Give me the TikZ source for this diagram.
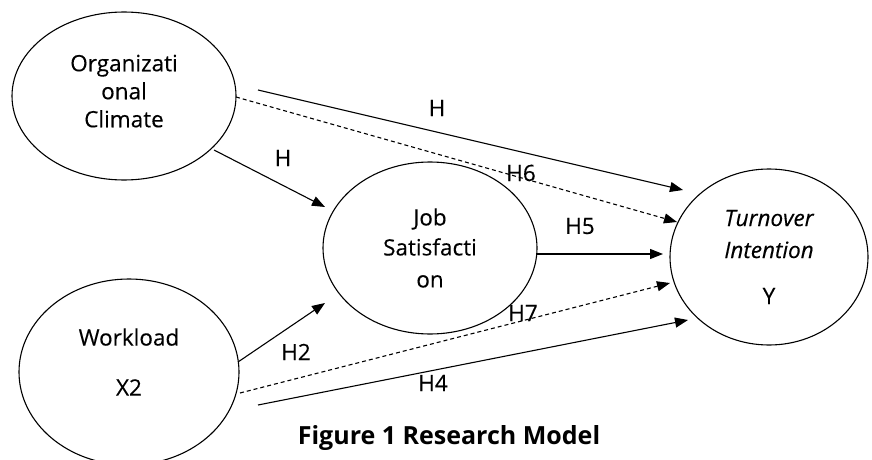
\documentclass[tikz,border=0pt]{standalone}
\usepackage{fontspec}
\setmainfont{Open Sans}
\usetikzlibrary{shapes.geometric,arrows.meta}
\begin{document}
\begin{tikzpicture}[x=1pt,y=-1pt,
  every node/.style={font=\fontsize{22.5}{28}\selectfont\addfontfeatures{FakeBold=0.3}},
  var/.style={draw,ellipse,line width=1.1pt,inner sep=0pt,align=center},
  link/.style={line width=1.1pt,-{Triangle[length=13pt,width=10pt]}},
  dlink/.style={link,dash pattern=on 4pt off 3pt},
  lab/.style={inner sep=0pt}]
\useasboundingbox (0,0) rectangle (872,460);
\node[var,minimum width=224pt,minimum height=168pt] (oc) at (124,96) {Organizati\\onal\\Climate\\[-18pt]};
\node[var,minimum width=214pt,minimum height=172pt] (js) at (430,248) {Job\\[2pt]Satisfacti\\[4pt]on};
\node[var,minimum width=198pt,minimum height=176pt] (ti) at (769,257) {\itshape Turnover\\[4pt]\itshape Intention\\[18pt]Y};
\node[var,minimum width=220pt,minimum height=186pt] (wl) at (129,372) {Workload\\[22pt]X2\rule[-20pt]{0pt}{20pt}};
% free ends
\coordinate (a1s) at (258,90);  \coordinate (a1e) at (683,190);
\coordinate (a2s) at (236,97);  \coordinate (a2e) at (677,222);
\coordinate (a3s) at (214,150); \coordinate (a3e) at (325,207);
\coordinate (a4s) at (537,254); \coordinate (a4e) at (663,254);
\coordinate (a5s) at (238,362); \coordinate (a5e) at (325,303);
\coordinate (a6s) at (240,393); \coordinate (a6e) at (670,283);
\coordinate (a7s) at (258,405); \coordinate (a7e) at (688,320);
\draw[link]  (a1s) -- (a1e);
\draw[dlink] (a2s) -- (a2e);
\draw[link]  (a3s) -- (a3e);
\draw[link]  (a4s) -- (a4e);
\draw[link]  (a5s) -- (a5e);
\draw[dlink] (a6s) -- (a6e);
\draw[link]  (a7s) -- (a7e);
\node[lab] (h1) at (437,108) {H};
\node[lab] (h6) at (521,173) {H6};
\node[lab] (h3) at (283,158) {H};
\node[lab] (h5) at (580,226) {H5};
\node[lab] (h2) at (296,352) {H2};
\node[lab] (h7) at (523,313) {H7};
\node[lab] (h4) at (433,383) {H4};
\node[lab,font=\fontsize{25}{26}\selectfont\bfseries] (cap) at (449,438) {Figure 1 Research Model};
\end{tikzpicture}
\end{document}
